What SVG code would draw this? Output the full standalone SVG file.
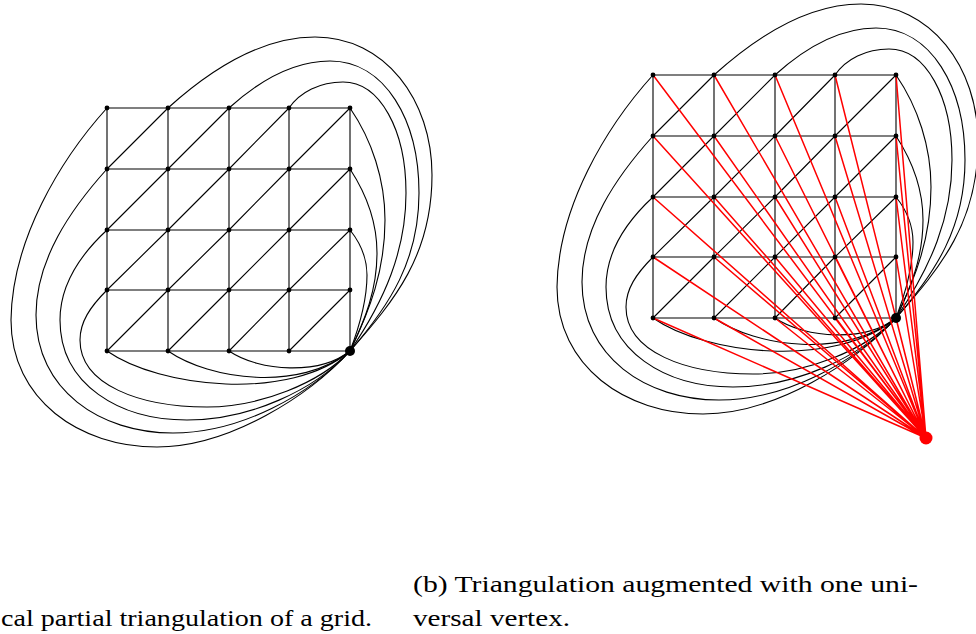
<svg xmlns="http://www.w3.org/2000/svg" width="976" height="634" viewBox="0 0 976 634">
<style>
.e{fill:none;stroke:#000;stroke-width:1.1}
.r{fill:none;stroke:#ff0000;stroke-width:1.5}
.n{fill:#000}
.nr{fill:#ff0000}
</style>
<defs>
<g id="edgesTpl">
<path class="e" d="M107,108H350M107,169H350M107,230H350M107,290H350M107,351H350M107,108V351M168,108V351M229,108V351M289,108V351M350,108V351"/>
<path class="e" d="M107,169L168,108M168,169L229,108M229,169L289,108M289,169L350,108M107,230L168,169M168,230L229,169M229,230L289,169M289,230L350,169M107,290L168,230M168,290L229,230M229,290L289,230M289,290L350,230M107,351L168,290M168,351L229,290M229,351L289,290M289,351L350,290"/>
<path class="e" d="M229,351C260,372 320,375 350,351"/>
<path class="e" d="M168,351C210,380 300,392 350,351"/>
<path class="e" d="M107,351C160,388 290,402 350,351"/>
<path class="e" d="M107,290C90,307 80,322 80,340C80,385 140,407 207,407C260,407 320,383 350,351"/>
<path class="e" d="M107,230C80,255 60,285 60,320C60,385 120,420 187,420C250,420 315,390 350,351"/>
<path class="e" d="M107,169C70,210 36,260 36,315C36,390 100,433 173,433C240,433 310,395 350,351"/>
<path class="e" d="M107,108C60,160 12,240 11,320C11,400 80,447 157,447C230,447 310,395 350,351"/>
<path class="e" d="M289,108C300,92 320,82 343,82C380,82 406,130 406,193C406,250 385,300 350,351"/>
<path class="e" d="M229,108C260,80 295,61 330,61C385,61 419,120 419,193C419,260 390,305 350,351"/>
<path class="e" d="M168,108C210,70 260,37 315,37C385,37 432,100 432,175C432,255 395,300 350,351"/>
<path class="e" d="M350,108C372,140 385,180 385,220C385,270 370,310 350,351"/>
<path class="e" d="M350,169C367,195 377,225 377,253C377,290 365,320 350,351"/>
<path class="e" d="M350,230C362,245 367,260 367,275C367,300 360,325 350,351"/>
</g>
</defs>
<g id="connectors">
<use href="#edgesTpl"/>
<g transform="translate(546,-33)"><use href="#edgesTpl"/></g>
<g id="red-edges">
<path class="r" d="M926,438L653,75M926,438L714,75M926,438L775,75M926,438L835,75M926,438L896,75M926,438L653,136M926,438L714,136M926,438L775,136M926,438L835,136M926,438L896,136M926,438L653,197M926,438L714,197M926,438L775,197M926,438L835,197M926,438L896,197M926,438L653,257M926,438L714,257M926,438L775,257M926,438L835,257M926,438L896,257M926,438L653,318M926,438L714,318M926,438L775,318M926,438L835,318M926,438L896,318"/>
</g>
</g>
<g id="nodes-a">
<g id="a00"><circle class="n" cx="107" cy="108" r="2.4"/></g>
<g id="a10"><circle class="n" cx="168" cy="108" r="2.4"/></g>
<g id="a20"><circle class="n" cx="229" cy="108" r="2.4"/></g>
<g id="a30"><circle class="n" cx="289" cy="108" r="2.4"/></g>
<g id="a40"><circle class="n" cx="350" cy="108" r="2.4"/></g>
<g id="a01"><circle class="n" cx="107" cy="169" r="2.4"/></g>
<g id="a11"><circle class="n" cx="168" cy="169" r="2.4"/></g>
<g id="a21"><circle class="n" cx="229" cy="169" r="2.4"/></g>
<g id="a31"><circle class="n" cx="289" cy="169" r="2.4"/></g>
<g id="a41"><circle class="n" cx="350" cy="169" r="2.4"/></g>
<g id="a02"><circle class="n" cx="107" cy="230" r="2.4"/></g>
<g id="a12"><circle class="n" cx="168" cy="230" r="2.4"/></g>
<g id="a22"><circle class="n" cx="229" cy="230" r="2.4"/></g>
<g id="a32"><circle class="n" cx="289" cy="230" r="2.4"/></g>
<g id="a42"><circle class="n" cx="350" cy="230" r="2.4"/></g>
<g id="a03"><circle class="n" cx="107" cy="290" r="2.4"/></g>
<g id="a13"><circle class="n" cx="168" cy="290" r="2.4"/></g>
<g id="a23"><circle class="n" cx="229" cy="290" r="2.4"/></g>
<g id="a33"><circle class="n" cx="289" cy="290" r="2.4"/></g>
<g id="a43"><circle class="n" cx="350" cy="290" r="2.4"/></g>
<g id="a04"><circle class="n" cx="107" cy="351" r="2.4"/></g>
<g id="a14"><circle class="n" cx="168" cy="351" r="2.4"/></g>
<g id="a24"><circle class="n" cx="229" cy="351" r="2.4"/></g>
<g id="a34"><circle class="n" cx="289" cy="351" r="2.4"/></g>
<g id="a44"><circle class="n" cx="350" cy="351" r="5"/></g>
</g>
<g id="nodes-b">
<g id="b00"><circle class="n" cx="653" cy="75" r="2.4"/></g>
<g id="b10"><circle class="n" cx="714" cy="75" r="2.4"/></g>
<g id="b20"><circle class="n" cx="775" cy="75" r="2.4"/></g>
<g id="b30"><circle class="n" cx="835" cy="75" r="2.4"/></g>
<g id="b40"><circle class="n" cx="896" cy="75" r="2.4"/></g>
<g id="b01"><circle class="n" cx="653" cy="136" r="2.4"/></g>
<g id="b11"><circle class="n" cx="714" cy="136" r="2.4"/></g>
<g id="b21"><circle class="n" cx="775" cy="136" r="2.4"/></g>
<g id="b31"><circle class="n" cx="835" cy="136" r="2.4"/></g>
<g id="b41"><circle class="n" cx="896" cy="136" r="2.4"/></g>
<g id="b02"><circle class="n" cx="653" cy="197" r="2.4"/></g>
<g id="b12"><circle class="n" cx="714" cy="197" r="2.4"/></g>
<g id="b22"><circle class="n" cx="775" cy="197" r="2.4"/></g>
<g id="b32"><circle class="n" cx="835" cy="197" r="2.4"/></g>
<g id="b42"><circle class="n" cx="896" cy="197" r="2.4"/></g>
<g id="b03"><circle class="n" cx="653" cy="257" r="2.4"/></g>
<g id="b13"><circle class="n" cx="714" cy="257" r="2.4"/></g>
<g id="b23"><circle class="n" cx="775" cy="257" r="2.4"/></g>
<g id="b33"><circle class="n" cx="835" cy="257" r="2.4"/></g>
<g id="b43"><circle class="n" cx="896" cy="257" r="2.4"/></g>
<g id="b04"><circle class="n" cx="653" cy="318" r="2.4"/></g>
<g id="b14"><circle class="n" cx="714" cy="318" r="2.4"/></g>
<g id="b24"><circle class="n" cx="775" cy="318" r="2.4"/></g>
<g id="b34"><circle class="n" cx="835" cy="318" r="2.4"/></g>
<g id="b44"><circle class="n" cx="896" cy="318" r="5"/></g>
<g id="universal"><circle class="nr" cx="926" cy="438" r="6.5"/></g>
</g>
<g id="captions" font-family="'Liberation Serif', 'Times New Roman', serif" font-size="24" fill="#000">
<text x="1" y="626" textLength="371" lengthAdjust="spacingAndGlyphs">cal partial triangulation of a grid.</text>
<text x="413" y="592" textLength="505" lengthAdjust="spacingAndGlyphs">(b) Triangulation augmented with one uni-</text>
<text x="413" y="626" textLength="157" lengthAdjust="spacingAndGlyphs">versal vertex.</text>
</g>
</svg>
